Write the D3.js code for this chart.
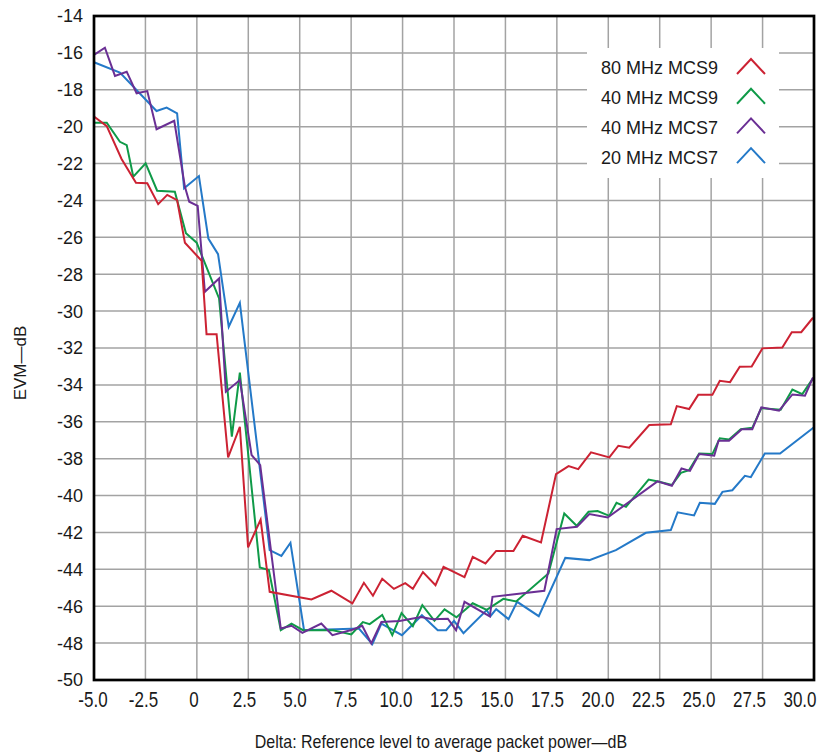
<!DOCTYPE html>
<html>
<head>
<meta charset="utf-8">
<script src="https://cdn.jsdelivr.net/npm/d3@7"></script>
<style>
  body { margin: 0; background: #fff; }
  text { font-family: "Liberation Sans", Arial, sans-serif; fill: #1a1a1a; }
</style>
</head>
<body>
<div id="chart"></div>
<script>
// EVM vs reference level delta, four channel/MCS combos
const seriesNames = ["80 MHz MCS9", "40 MHz MCS9", "40 MHz MCS7", "20 MHz MCS7"];
const seriesColors = ["#cc2233", "#0f9a48", "#6a2f94", "#2479c8"];

const red80mcs9 = [
  [-5.0,-19.45],[-4.38,-19.97],[-3.66,-21.75],[-2.96,-23.04],[-2.41,-23.07],[-1.88,-24.2],[-1.44,-23.7],
  [-0.96,-23.98],[-0.58,-26.29],[0.23,-27.27],[0.47,-31.25],[0.96,-31.25],[1.52,-37.93],[2.09,-36.27],
  [2.49,-42.81],[3.1,-41.3],[3.54,-45.22],[5.57,-45.63],[6.54,-45.16],[7.56,-45.85],[8.12,-44.73],
  [8.56,-45.43],[9.01,-44.51],[9.58,-45.06],[10.13,-44.75],[10.5,-45.06],[10.99,-44.15],[11.6,-44.86],
  [11.99,-43.86],[13.01,-44.42],[13.41,-43.32],[14.03,-43.68],[14.55,-43.0],[15.39,-43.01],[15.84,-42.18],
  [16.73,-42.54],[17.46,-38.84],[18.07,-38.4],[18.54,-38.57],[19.16,-37.66],[20.05,-37.93],[20.49,-37.3],
  [21.02,-37.41],[21.99,-36.18],[23.04,-36.14],[23.33,-35.15],[23.93,-35.31],[24.37,-34.54],[25.06,-34.54],
  [25.42,-33.78],[25.92,-33.85],[26.39,-33.02],[26.97,-33.0],[27.49,-32.02],[28.46,-31.97],[28.92,-31.14],
  [29.38,-31.14],[29.95,-30.36]
];

const green40mcs9 = [
  [-5.0,-19.79],[-4.38,-19.79],[-3.74,-20.82],[-3.41,-21.0],[-3.09,-22.71],[-2.49,-21.99],[-1.93,-23.47],
  [-1.07,-23.53],[-0.53,-25.78],[-0.01,-26.29],[1.08,-29.31],[1.7,-36.81],[2.09,-33.34],[3.06,-43.9],
  [3.5,-44.04],[4.08,-47.3],[4.6,-46.94],[5.16,-47.3],[6.62,-47.3],[7.51,-47.53],[8.07,-46.86],[8.4,-46.97],
  [9.01,-46.47],[9.5,-47.57],[9.95,-46.37],[10.5,-47.08],[10.96,-45.94],[11.55,-46.79],[12.04,-46.17],
  [12.62,-46.6],[13.41,-45.84],[14.09,-46.2],[14.9,-45.6],[15.52,-45.74],[17.09,-44.22],[17.86,-40.97],
  [18.46,-41.64],[19.04,-40.88],[19.48,-40.84],[20.05,-41.1],[20.4,-40.39],[20.86,-40.61],[21.96,-39.13],
  [22.48,-39.25],[23.09,-39.43],[23.53,-38.77],[23.93,-38.62],[24.42,-37.72],[25.06,-37.75],[25.42,-36.9],
  [25.87,-36.96],[26.44,-36.4],[27.0,-36.33],[27.44,-35.26],[28.38,-35.35],[28.95,-34.25],[29.43,-34.5],
  [29.95,-33.65]
];

const purple40mcs7 = [
  [-5.0,-16.11],[-4.47,-15.72],[-3.98,-17.25],[-3.41,-17.02],[-2.93,-18.19],[-2.41,-18.07],[-1.96,-20.14],
  [-1.1,-19.68],[-0.58,-23.26],[-0.37,-24.07],[0.04,-24.3],[0.39,-28.95],[1.08,-28.23],[1.41,-34.37],
  [2.09,-33.74],[2.66,-37.8],[3.08,-38.35],[4.08,-47.21],[4.6,-47.06],[5.13,-47.44],[6.05,-46.94],
  [6.59,-47.57],[7.59,-47.26],[8.04,-47.06],[8.48,-48.02],[8.97,-46.86],[9.85,-46.8],[10.9,-46.58],
  [11.47,-46.7],[12.2,-46.68],[12.6,-47.3],[13.01,-45.76],[14.24,-46.55],[14.37,-45.49],[16.89,-45.16],
  [17.49,-41.82],[18.48,-41.69],[19.08,-41.0],[19.97,-41.19],[22.39,-39.23],[23.09,-39.47],[23.56,-38.53],
  [23.97,-38.66],[24.42,-37.75],[25.15,-37.84],[25.36,-37.03],[25.87,-37.03],[26.49,-36.4],[27.0,-36.4],
  [27.44,-35.22],[28.3,-35.4],[28.95,-34.52],[29.56,-34.59],[29.95,-33.6]
];

const blue20mcs7 = [
  [-5.0,-16.51],[-3.74,-17.07],[-1.96,-19.15],[-1.47,-18.97],[-0.96,-19.28],[-0.62,-23.34],[0.1,-22.68],
  [0.56,-26.07],[1.03,-26.91],[1.55,-30.85],[2.09,-29.55],[3.54,-42.96],[4.11,-43.27],[4.55,-42.56],
  [5.21,-47.3],[7.88,-47.21],[8.53,-48.06],[8.97,-46.94],[9.97,-47.57],[10.94,-46.49],[11.71,-47.3],
  [12.12,-47.3],[12.5,-46.79],[12.96,-47.46],[14.09,-46.21],[14.27,-46.54],[14.55,-46.16],[15.15,-46.7],
  [15.57,-45.76],[16.62,-46.54],[17.91,-43.38],[19.08,-43.5],[20.37,-42.96],[21.83,-42.02],[23.04,-41.87],
  [23.37,-40.91],[24.17,-41.08],[24.45,-40.39],[25.18,-40.45],[25.55,-39.8],[26.03,-39.71],[26.64,-38.93],
  [26.93,-39.0],[27.61,-37.72],[28.35,-37.72],[30.0,-36.3]
];

const xTicks = [-5, -2.5, 0, 2.5, 5, 7.5, 10, 12.5, 15, 17.5, 20, 22.5, 25, 27.5, 30];
const xTickLabels = ["-5.0","-2.5","0","2.5","5.0","7.5","10.0","12.5","15.0","17.5","20.0","22.5","25.0","27.5","30.0"];
const yTicks = [-14,-16,-18,-20,-22,-24,-26,-28,-30,-32,-34,-36,-38,-40,-42,-44,-46,-48,-50];

const W = 818, H = 752;
const plot = { left: 94, right: 814, top: 16, bottom: 680 };

const svg = d3.select("#chart")
  .append("svg")
  .attr("width", W)
  .attr("height", H);

const x = d3.scaleLinear().domain([-5, 30]).range([plot.left, plot.right]);
const y = d3.scaleLinear().domain([-14, -50]).range([plot.top, plot.bottom]);
// tick labels in the source sit a bit left of their gridlines, more so toward the right
const xLabel = d3.scaleLinear().domain([-5, 30]).range([plot.left - 1, plot.right - 14]);

// grid
svg.append("g")
  .selectAll("line")
  .data(xTicks.slice(1, -1))
  .join("line")
  .attr("x1", d => x(d)).attr("x2", d => x(d))
  .attr("y1", plot.top).attr("y2", plot.bottom)
  .attr("stroke", "#a3a3a3")
  .attr("stroke-width", 1.5);

svg.append("g")
  .selectAll("line")
  .data(yTicks.slice(1, -1))
  .join("line")
  .attr("x1", plot.left).attr("x2", plot.right)
  .attr("y1", d => y(d)).attr("y2", d => y(d))
  .attr("stroke", "#a3a3a3")
  .attr("stroke-width", 1.5);

// legend box (covers grid)
const legendX = 587, legendY = 48;
svg.append("rect")
  .attr("x", legendX).attr("y", legendY)
  .attr("width", 192).attr("height", 130)
  .attr("fill", "#fff");

// lines
const line = d3.line().x(d => x(d[0])).y(d => y(d[1]));
const allSeries = [red80mcs9, green40mcs9, purple40mcs7, blue20mcs7];
const drawOrder = [3, 1, 2, 0];

drawOrder.forEach(i => {
  svg.append("path")
    .datum(allSeries[i])
    .attr("fill", "none")
    .attr("stroke", seriesColors[i])
    .attr("stroke-width", 2)
    .attr("stroke-linejoin", "miter")
    .attr("d", line);
});

// frame
svg.append("rect")
  .attr("x", plot.left).attr("y", plot.top)
  .attr("width", plot.right - plot.left)
  .attr("height", plot.bottom - plot.top)
  .attr("fill", "none")
  .attr("stroke", "#000")
  .attr("stroke-width", 2.7);

// y tick labels
svg.append("g")
  .selectAll("text")
  .data(yTicks)
  .join("text")
  .attr("x", plot.left - 11)
  .attr("y", d => y(d))
  .attr("dy", "0.36em")
  .attr("text-anchor", "end")
  .style("font-size", "18px")
  .text(d => d);

// x tick labels (tall, narrow face in the source)
svg.append("g")
  .selectAll("text")
  .data(xTicks)
  .join("text")
  .attr("transform", d => `translate(${xLabel(d)},${plot.bottom + 27}) scale(1,1.35)`)
  .attr("text-anchor", "middle")
  .style("font-size", "17px")
  .text((d, i) => xTickLabels[i]);

// axis titles
svg.append("text")
  .attr("x", 441)
  .attr("y", 748)
  .attr("text-anchor", "middle")
  .attr("transform", "translate(441,748) scale(1,1.2) translate(-441,-748)")
  .style("font-size", "16px")
  .text("Delta: Reference level to average packet power\u2014dB");

svg.append("text")
  .attr("transform", "translate(26,363) rotate(-90)")
  .attr("text-anchor", "middle")
  .style("font-size", "17px")
  .text("EVM\u2014dB");

// legend entries
const rowStep = 29.7;
seriesNames.forEach((name, i) => {
  const cy = 68 + i * rowStep;
  svg.append("text")
    .attr("x", 601)
    .attr("y", cy)
    .attr("dy", "0.36em")
    .style("font-size", "18px")
    .text(name);
  svg.append("path")
    .attr("d", `M737,${cy + 6}L751,${cy - 9}L765,${cy + 6}`)
    .attr("fill", "none")
    .attr("stroke", seriesColors[i])
    .attr("stroke-width", 2);
});
</script>
</body>
</html>
